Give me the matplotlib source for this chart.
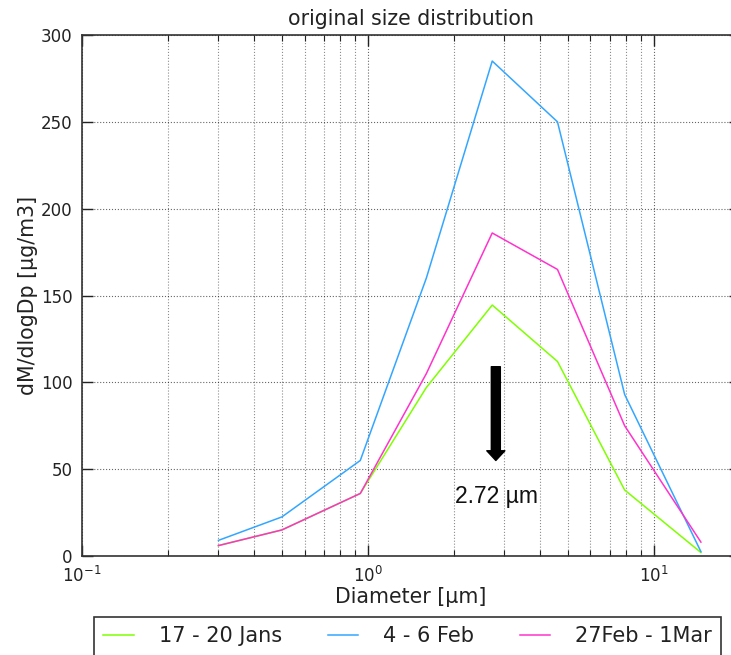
import numpy as np
import matplotlib
matplotlib.use('Agg')
import matplotlib.pyplot as plt
from matplotlib.ticker import LogLocator, NullFormatter

plt.rcParams['mathtext.fontset'] = 'dejavusans'
plt.rcParams['font.family'] = 'DejaVu Sans'

# data
diameter = [0.3, 0.5, 0.94, 1.6, 2.72, 4.6, 7.9, 14.6]
jan = [6, 15, 36, 97, 144.5, 112, 38, 2]
feb = [9, 22.5, 55, 160, 285, 250, 93, 2.5]
mar = [6, 15, 36, 105, 186, 165, 75, 8]
labels = ['17 - 20 Jans', '4 - 6 Feb', '27Feb - 1Mar']
colors = ['#7FFF00', '#33A6FF', '#FF33CC']

fig = plt.figure(figsize=(7.31, 6.55), dpi=100)
fig.patch.set_facecolor('white')
ax = fig.add_axes([82 / 731, 1 - 556 / 655, (740 - 82) / 731, (556 - 35) / 655])

lines = []
for y, c, lab in zip([jan, feb, mar], colors, labels):
    ln, = ax.plot(diameter, y, color=c, lw=1.1, label=lab)
    lines.append(ln)

ax.set_xscale('log')
ax.set_xlim(0.1, 20)
ax.set_ylim(0, 300)
ax.set_yticks([0, 50, 100, 150, 200, 250, 300])
ax.xaxis.set_minor_locator(LogLocator(base=10, subs=np.arange(2, 10)))
ax.xaxis.set_minor_formatter(NullFormatter())

# classic look: ticks inside on all sides, dotted grid
ax.tick_params(which='both', direction='in', top=True, right=True, labelsize=12, colors='#222222')
ax.tick_params(which='major', length=8, width=1, pad=7)
ax.tick_params(which='minor', length=4, width=0.8)
ax.grid(True, which='major', axis='both', color='k', linestyle=':', lw=0.8, alpha=0.6)
ax.grid(True, which='minor', axis='x', color='k', linestyle=':', lw=0.8, alpha=0.45)
for s in ax.spines.values():
    s.set_color('#333333')
    s.set_linewidth(1.2)

ax.set_title('original size distribution', fontsize=14.8, color='#222222', pad=7)
ax.set_xlabel('Diameter [µm]', fontsize=14.8, color='#222222', labelpad=1)
ax.set_ylabel('dM/dlogDp [µg/m3]', fontsize=14.8, color='#222222', labelpad=2)

# arrow marking the peak
ax.annotate('', xy=(2.8, 55), xytext=(2.8, 109),
            arrowprops=dict(facecolor='black', edgecolor='black',
                            width=6.5, headwidth=13, headlength=7))
ax.text(2.82, 34, '2.72 µm', fontsize=16.5, ha='center', va='center',
        family=['Liberation Sans', 'DejaVu Sans'], color='#111111')

leg = fig.legend(handles=lines, loc='upper left', ncol=3,
                 bbox_to_anchor=(94 / 731, 1 - 617 / 655),
                 fontsize=15, frameon=True, fancybox=False,
                 handlelength=1.45, handletextpad=1.2, columnspacing=2.2,
                 borderpad=0.45, borderaxespad=0)
leg.get_frame().set_edgecolor('black')
leg.get_frame().set_linewidth(1.2)
for t in leg.get_texts():
    t.set_color('#222222')

fig.savefig('out.png', dpi=100, facecolor='white')
